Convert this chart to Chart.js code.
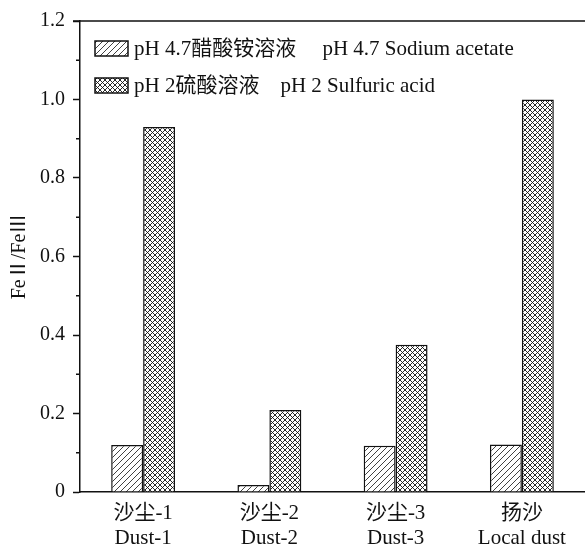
<!DOCTYPE html>
<html>
<head>
<meta charset="utf-8">
<script src="https://cdn.jsdelivr.net/npm/chart.js@4.4.1/dist/chart.umd.min.js"></script>
<style>
  html, body { margin: 0; background: #fff; }
  #wrap { width: 585px; height: 546px; }
</style>
</head>
<body>
<div id="wrap"><canvas id="c"></canvas></div>
<script>
const categories = [["沙尘-1", "Dust-1"], ["沙尘-2", "Dust-2"], ["沙尘-3", "Dust-3"], ["扬沙", "Local dust"]];
const seriesNames = ["pH 4.7醋酸铵溶液     pH 4.7 Sodium acetate", "pH 2硫酸溶液    pH 2 Sulfuric acid"];
const sodiumAcetate = [0.12, 0.018, 0.118, 0.121];
const sulfuricAcid = [0.93, 0.209, 0.375, 1.0];
const yTicks = [0, 0.2, 0.4, 0.6, 0.8, 1.0, 1.2];
const yTickLabels = ["0", "0.2", "0.4", "0.6", "0.8", "1.0", "1.2"];
const yMinorTicks = [0.1, 0.3, 0.5, 0.7, 0.9, 1.1];

const FONT = "'Liberation Serif', 'Noto Sans CJK SC', serif";

// hatch fills: single diagonal and cross
function makePattern(cross) {
  const s = cross ? 5 : 6;
  const c = document.createElement("canvas");
  c.width = s; c.height = s;
  const g = c.getContext("2d");
  g.fillStyle = "#fff";
  g.fillRect(0, 0, s, s);
  g.strokeStyle = "#111";
  g.lineWidth = cross ? 0.9 : 0.8;
  g.beginPath();
  g.moveTo(0, s); g.lineTo(s, 0);
  g.moveTo(-1, 1); g.lineTo(1, -1);
  g.moveTo(s - 1, s + 1); g.lineTo(s + 1, s - 1);
  if (cross) {
    g.moveTo(0, 0); g.lineTo(s, s);
    g.moveTo(-1, s - 1); g.lineTo(1, s + 1);
    g.moveTo(s - 1, -1); g.lineTo(s + 1, 1);
  }
  g.stroke();
  return g.createPattern(c, "repeat");
}

const frame = {
  id: "frame",
  afterDraw(chart) {
    const { ctx, chartArea: a, scales: { y } } = chart;
    ctx.save();
    ctx.strokeStyle = "#111";
    ctx.lineWidth = 1.5;
    ctx.beginPath();
    ctx.moveTo(a.left - 7, a.top);
    ctx.lineTo(a.right, a.top);
    yMinorTicks.forEach((v) => {
      const p = y.getPixelForValue(v);
      ctx.moveTo(a.left - 4, p);
      ctx.lineTo(a.left, p);
    });
    ctx.stroke();

    // legend inside the plot
    ctx.font = "21px " + FONT;
    ctx.textBaseline = "middle";
    chart.data.datasets.forEach((ds, i) => {
      const bx = a.left + 15;
      const by = a.top + 20 + i * 37;
      ctx.fillStyle = ds.backgroundColor;
      ctx.fillRect(bx, by, 33, 15);
      ctx.strokeRect(bx, by, 33, 15);
      ctx.fillStyle = "#111";
      ctx.fillText(ds.label, bx + 39, by + 8);
    });
    ctx.restore();
  },
};

new Chart(document.getElementById("c"), {
  type: "bar",
  data: {
    labels: categories,
    datasets: [
      {
        label: seriesNames[0],
        data: sodiumAcetate,
        backgroundColor: makePattern(false),
        borderColor: "#111",
        borderWidth: 1.5,
      },
      {
        label: seriesNames[1],
        data: sulfuricAcid,
        backgroundColor: makePattern(true),
        borderColor: "#111",
        borderWidth: 1.5,
      },
    ],
  },
  options: {
    responsive: true,
    maintainAspectRatio: false,
    animation: false,
    layout: { padding: { top: 21, right: 0, left: 0, bottom: 0 } },
    datasets: { bar: { categoryPercentage: 0.506, barPercentage: 1.0 } },
    plugins: { legend: { display: false }, tooltip: { enabled: false } },
    scales: {
      x: {
        grid: { display: false, drawTicks: false },
        border: { color: "#111", width: 1.5 },
        ticks: { color: "#111", font: { family: FONT, size: 21 }, padding: 9, maxRotation: 0 },
        afterFit: (s) => { s.height = 54; },
      },
      y: {
        min: 0,
        max: 1.2,
        afterBuildTicks: (s) => { s.ticks = yTicks.map((v) => ({ value: v })); },
        grid: { drawOnChartArea: false, tickLength: 7, tickColor: "#111", tickWidth: 1.5 },
        border: { color: "#111", width: 1.5 },
        ticks: {
          color: "#111",
          font: { family: FONT, size: 20 },
          padding: 8,
          callback: (v) => {
            const i = yTicks.findIndex((t) => Math.abs(t - v) < 1e-6);
            return i >= 0 ? yTickLabels[i] : "";
          },
        },
        title: {
          display: true,
          text: "FeⅡ/FeⅢ",
          color: "#111",
          font: { family: FONT, size: 20 },
          padding: { top: 8, bottom: 0 },
        },
        afterFit: (s) => { s.width = 80; },
      },
    },
  },
  plugins: [frame],
});
</script>
</body>
</html>
